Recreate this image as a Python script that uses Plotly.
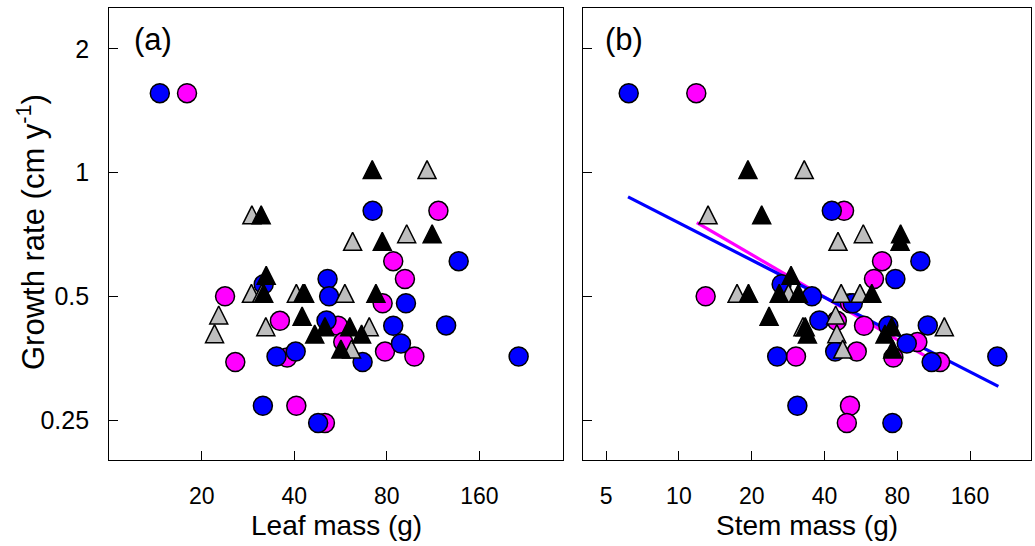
import plotly.graph_objects as go
import math

# ---- data: growth rate (cm/yr) against leaf and stem mass (g), four groups ----
blue_growth = [1.56, 0.807, 0.609, 0.551, 0.535, 0.50, 0.481, 0.437, 0.424, 0.425,
               0.384, 0.357, 0.367, 0.357, 0.346, 0.271, 0.246]
blue_leaf = [14.6, 71.9, 137, 51.3, 31.8, 51.9, 92.3, 50.9, 83.9, 124.7,
             88.9, 35.0, 40.4, 214.7, 66.7, 31.6, 47.8]
blue_stem = [6.2, 42.9, 99.7, 78.6, 26.6, 35.5, 52.4, 38.1, 73.5, 107,
             87.6, 25.5, 44.3, 207.5, 111, 30.9, 76.4]

magenta_growth = [1.56, 0.807, 0.609, 0.551, 0.50, 0.481, 0.436, 0.424, 0.387,
                  0.355, 0.367, 0.357, 0.346, 0.271, 0.246]
magenta_leaf = [17.9, 117.7, 83.9, 91.6, 23.8, 77.5, 35.9, 55.5, 57.7,
                37.9, 78.9, 98.3, 25.7, 40.6, 50.3]
magenta_stem = [11.8, 48.2, 69.2, 64.1, 12.9, 51.0, 45.0, 58.3, 96.9,
                77.1, 54.4, 30.5, 120.3, 51.0, 49.5]

black_growth = [1.0, 0.776, 0.669, 0.698, 0.553, 0.50, 0.50, 0.50, 0.50,
                0.44, 0.415, 0.415, 0.398, 0.398, 0.366]
black_leaf = [71.7, 31.2, 77.3, 112.3, 32.4, 31.8, 42.7, 43.2, 73.7,
              42.4, 50.3, 60.6, 46.6, 66.2, 56.7]
black_stem = [19.3, 22.0, 82.2, 82.6, 29.1, 19.4, 26.0, 31.2, 62.8,
              23.6, 33.3, 75.9, 34.0, 71.2, 76.6]

gray_growth = [1.0, 0.776, 0.669, 0.698, 0.50, 0.50, 0.50, 0.50, 0.443,
               0.415, 0.415, 0.399, 0.366]
gray_leaf = [108.1, 29.1, 61.9, 92.8, 29.0, 40.6, 58.4, 31.3, 22.7,
             32.3, 70.1, 22.0, 61.4]
gray_stem = [33.0, 13.2, 45.5, 57.9, 17.4, 28.4, 46.9, 56.1, 44.5,
             125.3, 32.6, 45.0, 47.6]

# fitted log-log regression lines (stem mass panel), endpoints
blue_fit_stem = [6.16, 209.6]
blue_fit_growth = [0.873, 0.302]
magenta_fit_stem = [11.86, 120.3]
magenta_fit_growth = [0.756, 0.341]

# axis ticks
y_ticks = [0.25, 0.5, 1, 2]
y_ticktext = ["0.25", "0.5", "1", "2"]
leaf_ticks = [20, 40, 80, 160]
stem_ticks = [5, 10, 20, 40, 80, 160]

W, H = 1035, 546
BLUE, MAGENTA, GRAY, BLACK = "#0000FF", "#FF00FF", "#BEBEBE", "#000000"
FONT = "Liberation Sans, Arial, sans-serif"

fig = go.Figure()

# regression lines under the points
fig.add_trace(go.Scatter(x=magenta_fit_stem, y=magenta_fit_growth, mode="lines",
                         line=dict(color=MAGENTA, width=3.2), xaxis="x2", yaxis="y2",
                         showlegend=False, hoverinfo="skip"))
fig.add_trace(go.Scatter(x=blue_fit_stem, y=blue_fit_growth, mode="lines",
                         line=dict(color=BLUE, width=3.2), xaxis="x2", yaxis="y2",
                         showlegend=False, hoverinfo="skip"))

circle = dict(symbol="circle", size=19, line=dict(color="black", width=1.5))
# equilateral-looking triangle: arrow shape flipped upright and shifted so that
# its centroid sits on the data point
tri = dict(symbol="arrow-down", angle=180, size=18, standoff=12,
           line=dict(color="black", width=1.5))

groups = [
    (magenta_leaf, magenta_stem, magenta_growth, MAGENTA, circle),
    (blue_leaf, blue_stem, blue_growth, BLUE, circle),
    (gray_leaf, gray_stem, gray_growth, GRAY, tri),
    (black_leaf, black_stem, black_growth, BLACK, tri),
]
for leaf, stem, growth, col, mk in groups:
    m = dict(mk, color=col)
    fig.add_trace(go.Scatter(x=leaf, y=growth, mode="markers", marker=m,
                             xaxis="x", yaxis="y", showlegend=False))
    fig.add_trace(go.Scatter(x=stem, y=growth, mode="markers", marker=m,
                             xaxis="x2", yaxis="y2", showlegend=False))

# plot areas in pixels
ax_left, ax_right = 109.3, 563.3
bx_left, bx_right = 582.7, 1031.0
y_top, y_bot = 7.5, 460.0

common = dict(type="log", showgrid=False, zeroline=False, showline=True, mirror=True,
              linecolor="black", linewidth=1.3, ticks="inside", ticklen=9,
              tickwidth=1.3, tickcolor="black")

fig.update_layout(
    width=W, height=H, margin=dict(l=0, r=0, t=0, b=0),
    paper_bgcolor="white", plot_bgcolor="white", showlegend=False,
    xaxis=dict(common, domain=[ax_left / W, ax_right / W], anchor="y",
               range=[1, math.log10(300)], tickvals=leaf_ticks,
               ticktext=[str(v) for v in leaf_ticks],
               tickfont=dict(family=FONT, size=23, color="black"),
               ticklabelstandoff=15),
    xaxis2=dict(common, domain=[bx_left / W, bx_right / W], anchor="y2",
                range=[math.log10(4), math.log10(286)], tickvals=stem_ticks,
                ticktext=[str(v) for v in stem_ticks],
                tickfont=dict(family=FONT, size=23, color="black"),
                ticklabelstandoff=15),
    yaxis=dict(common, domain=[1 - y_bot / H, 1 - y_top / H], anchor="x",
               range=[math.log10(0.2), math.log10(2.52)], tickvals=y_ticks,
               ticktext=y_ticktext,
               tickfont=dict(family=FONT, size=25, color="black"),
               ticklabelstandoff=14),
    yaxis2=dict(common, domain=[1 - y_bot / H, 1 - y_top / H], anchor="x2",
                range=[math.log10(0.2), math.log10(2.52)], tickvals=y_ticks,
                showticklabels=False),
)

annotations = [
    dict(text="Growth rate (cm y<sup>-1</sup>)", x=31 / W, y=1 - 232 / H, xref="paper",
         yref="paper", textangle=-90, showarrow=False, xanchor="center", yanchor="middle",
         font=dict(family=FONT, size=31, color="black")),
    dict(text="Leaf mass (g)", x=(ax_left + ax_right) / 2 / W, y=1 - 525 / H,
         xref="paper", yref="paper", showarrow=False, xanchor="center", yanchor="middle",
         font=dict(family=FONT, size=28, color="black")),
    dict(text="Stem mass (g)", x=(bx_left + bx_right) / 2 / W, y=1 - 525 / H,
         xref="paper", yref="paper", showarrow=False, xanchor="center", yanchor="middle",
         font=dict(family=FONT, size=28, color="black")),
    dict(text="(a)", x=132 / W, y=1 - 40 / H, xref="paper", yref="paper", showarrow=False,
         xanchor="left", yanchor="middle", font=dict(family=FONT, size=31, color="black")),
    dict(text="(b)", x=603 / W, y=1 - 40 / H, xref="paper", yref="paper", showarrow=False,
         xanchor="left", yanchor="middle", font=dict(family=FONT, size=31, color="black")),
]
fig.update_layout(annotations=annotations)

fig.write_html("out.html")
